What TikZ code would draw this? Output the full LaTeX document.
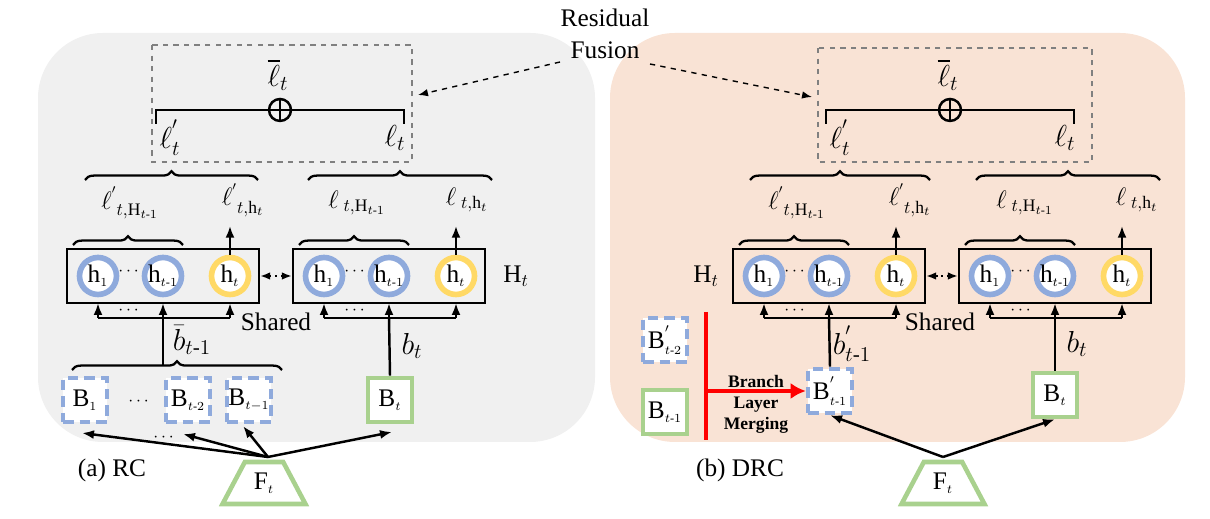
\documentclass[tikz,border=0pt]{standalone}
\usepackage{amsmath}
\usepackage{fontspec}
\setmainfont{Liberation Serif}
\usetikzlibrary{arrows.meta, decorations.pathreplacing, shapes.geometric, calc, positioning}
\definecolor{cBlue}{HTML}{8FAADC}
\definecolor{cYellow}{HTML}{FFD966}
\definecolor{cGreen}{HTML}{A9D18E}
\definecolor{cGray}{HTML}{F0F0F0}
\definecolor{cPeach}{HTML}{F9E3D5}
\tikzset{
    hBlue/.style={circle, draw=cBlue, line width=3.2pt, fill=white, minimum size=0.74cm, inner sep=0pt, font=\Large},
    hYellow/.style={hBlue, draw=cYellow},
    hBox/.style={draw, line width=1.2pt, minimum width=3.84cm, minimum height=1.08cm, inner sep=0pt},
    bDash/.style={draw=cBlue, line width=2.6pt, dash pattern=on 6pt off 3.5pt, fill=white, minimum size=0.88cm, inner sep=0pt, font=\Large},
    bSolid/.style={bDash, draw=cGreen, solid},
    fTrap/.style={trapezium, trapezium stretches=true, draw=cGreen, line width=2.6pt, fill=white, minimum width=1.66cm, minimum height=0.84cm, inner sep=0pt, font=\Large},
    fuseBox/.style={draw=gray, thick, dashed},
    arr/.style={-{Latex[length=2.4mm]}, line width=1.4pt},
    brc/.style={decorate, decoration={brace, amplitude=5pt}, line width=1.3pt},
    lbl/.style={font=\Large},
}
\begin{document}
\begin{tikzpicture}[x=0.02cm, y=-0.02cm]
    \useasboundingbox (0,0) rectangle (1210,519);
    % backgrounds
    \fill[cGray, rounded corners=1.3cm] (38,33) rectangle (595,442);
    \fill[cPeach, rounded corners=1.3cm] (610,33) rectangle (1185,442);

    % residual fusion
    \node[lbl, align=center, font=\Large] (rf) at (605,34) {Residual\\Fusion};
    \draw[fuseBox] (152,45) rectangle (412,162);
    \draw[fuseBox] (818,48) rectangle (1092,162);
    \draw[-{Latex[length=2mm]}, dashed, thick] (560,62) -- (418,95);
    \draw[-{Latex[length=2mm]}, dashed, thick] (650,64) -- (812,97);

    % fusion bars
    \foreach \x/\w/\n in {280/112/L, 950/112/R} {
        \node[circle, draw, line width=1.4pt, inner sep=0pt, minimum size=0.44cm] (op\n) at (\x,110) {};
        \draw[line width=1.4pt] (op\n.north) -- (op\n.south) (op\n.west) -- (op\n.east);
        \draw[line width=1.4pt] (op\n.west) -- ++(-\w,0) -- ++(0,14);
        \draw[line width=1.4pt] (op\n.east) -- ++(\w,0) -- ++(0,14);
        \node[lbl, font=\LARGE] at (\x-2,75) {$\overline{\ell}_t$};
    }
    \node[lbl, font=\LARGE] at (170,138) {$\ell^{'}_{t}$};
    \node[lbl, font=\LARGE] at (395,138) {$\ell_{t}$};
    \node[lbl, font=\LARGE] at (840,138) {$\ell^{'}_{t}$};
    \node[lbl, font=\LARGE] at (1065,138) {$\ell_{t}$};

    % hidden-state boxes
    \foreach \bx/\n in {163/A, 389/B, 829/C, 1055/D} {
        \node[hBox] (box\n) at (\bx,276) {};
        \node[hBlue] (h1\n) at (\bx-65,276) {h$_{\scriptscriptstyle 1}$};
        \node[hBlue] (hm\n) at (\bx,276) {h$_{\scriptscriptstyle t\text{-}1}$};
        \node[hYellow] (ht\n) at (\bx+67,276) {h$_{\scriptscriptstyle t}$};
        \node at (\bx-33,272) {$\cdots$};
        \draw[line width=1.4pt] (\bx-65,318) -- (\bx+67,318);
        \foreach \dx in {-65,0,67} \draw[arr] (\bx+\dx,318) -- (\bx+\dx,303);
        \node at (\bx-33,311) {$\cdots$};
        \draw[brc] (\bx-90,245) -- (\bx+20,245);
        \draw[arr] (ht\n.north) -- ++(0,-29);
    }
    \draw[{Latex[length=2mm]}-{Latex[length=2mm]}, line width=1.4pt, dotted] (boxA.east) -- (boxB.west);
    \draw[{Latex[length=2mm]}-{Latex[length=2mm]}, line width=1.4pt, dotted] (boxC.east) -- (boxD.west);
    \node[lbl] at (516,276) {H$_{\scriptstyle t}$};
    \node[lbl] at (706,276) {H$_{\scriptstyle t}$};
    \node[lbl] at (276,322) {Shared};
    \node[lbl] at (940,322) {Shared};

    % output labels
    \draw[brc] (85,180) -- (258,180);
    \draw[brc] (308,180) -- (492,180);
    \draw[brc] (750,180) -- (930,180);
    \draw[brc] (976,180) -- (1160,180);
    \node[lbl] at (130,203) {$\ell^{'}_{\;t,\mathrm{H}_{t\text{-}1}}$};
    \node[lbl] at (243,200) {$\ell^{'}_{\;t,\mathrm{h}_t}$};
    \node[lbl] at (357,203) {$\ell_{\;t,\mathrm{H}_{t\text{-}1}}$};
    \node[lbl] at (467,200) {$\ell_{\;t,\mathrm{h}_t}$};
    \node[lbl] at (797,203) {$\ell^{'}_{\;t,\mathrm{H}_{t\text{-}1}}$};
    \node[lbl] at (910,200) {$\ell^{'}_{\;t,\mathrm{h}_t}$};
    \node[lbl] at (1025,203) {$\ell_{\;t,\mathrm{H}_{t\text{-}1}}$};
    \node[lbl] at (1137,200) {$\ell_{\;t,\mathrm{h}_t}$};

    % (a) RC branches
    \node[bDash] (b1) at (85,400) {B$_{\scriptscriptstyle 1}$};
    \node at (140,402) {$\cdots$};
    \node[bDash] (b2) at (188,400) {B$_{\scriptscriptstyle t\text{-}2}$};
    \node[bDash] (b3) at (249,400) {B$_{\scriptscriptstyle t-1}$};
    \node[bSolid] (bt) at (390,400) {B$_{\scriptscriptstyle t}$};
    \draw[brc] (72,370) -- (282,370);
    \draw[line width=1.4pt] (163,365) -- (163,318);
    \draw[line width=1.4pt] (bt.north) -- (389,318);
    \node[lbl, font=\LARGE] at (192,340) {$\bar{b}_{t\text{-}1}$};
    \node[lbl, font=\LARGE] at (412,346) {$b_t$};
    \node[fTrap] (fa) at (264,483) {F$_{\scriptscriptstyle t}$};
    \coordinate (fatop) at (268,457);
    \draw[arr] (fatop) -- (82,433);
    \draw[arr] (fatop) -- (183,434);
    \draw[arr] (fatop) -- (243,426);
    \draw[arr] (fatop) -- (392,432);
    \node at (165,438) {$\cdots$};
    \node[lbl] at (112,470) {(a) RC};

    % (b) DRC branches
    \node[bDash] (c2) at (665,340) {B$^{'}_{\scriptscriptstyle t\text{-}2}$};
    \node[bSolid] (c1) at (665,412) {B$_{\scriptscriptstyle t\text{-}1}$};
    \node[bDash] (cm) at (830,391) {B$^{'}_{\scriptscriptstyle t\text{-}1}$};
    \node[bSolid] (ct) at (1055,395) {B$_{\scriptscriptstyle t}$};
    \draw[red, line width=2.2pt] (706,312) -- (706,440);
    \draw[red, line width=2.2pt, -{Latex[length=3mm, width=3.2mm]}] (706,391) -- (cm.west);
    \node[font=\bfseries\normalsize, align=center] at (756,404) {Branch\\Layer\\Merging};
    \draw[line width=1.4pt] (cm.north) -- (829,318);
    \draw[line width=1.4pt] (ct.north) -- (1055,318);
    \node[lbl, font=\LARGE] at (852,344) {$b^{'}_{t\text{-}1}$};
    \node[lbl, font=\LARGE] at (1077,344) {$b_t$};
    \node[fTrap] (fb) at (943,483) {F$_{\scriptscriptstyle t}$};
    \coordinate (fbtop) at (943,457);
    \draw[arr] (fbtop) -- (cm.south);
    \draw[arr] (fbtop) -- (ct.south);
    \node[lbl] at (740,470) {(b) DRC};
\end{tikzpicture}
\end{document}
